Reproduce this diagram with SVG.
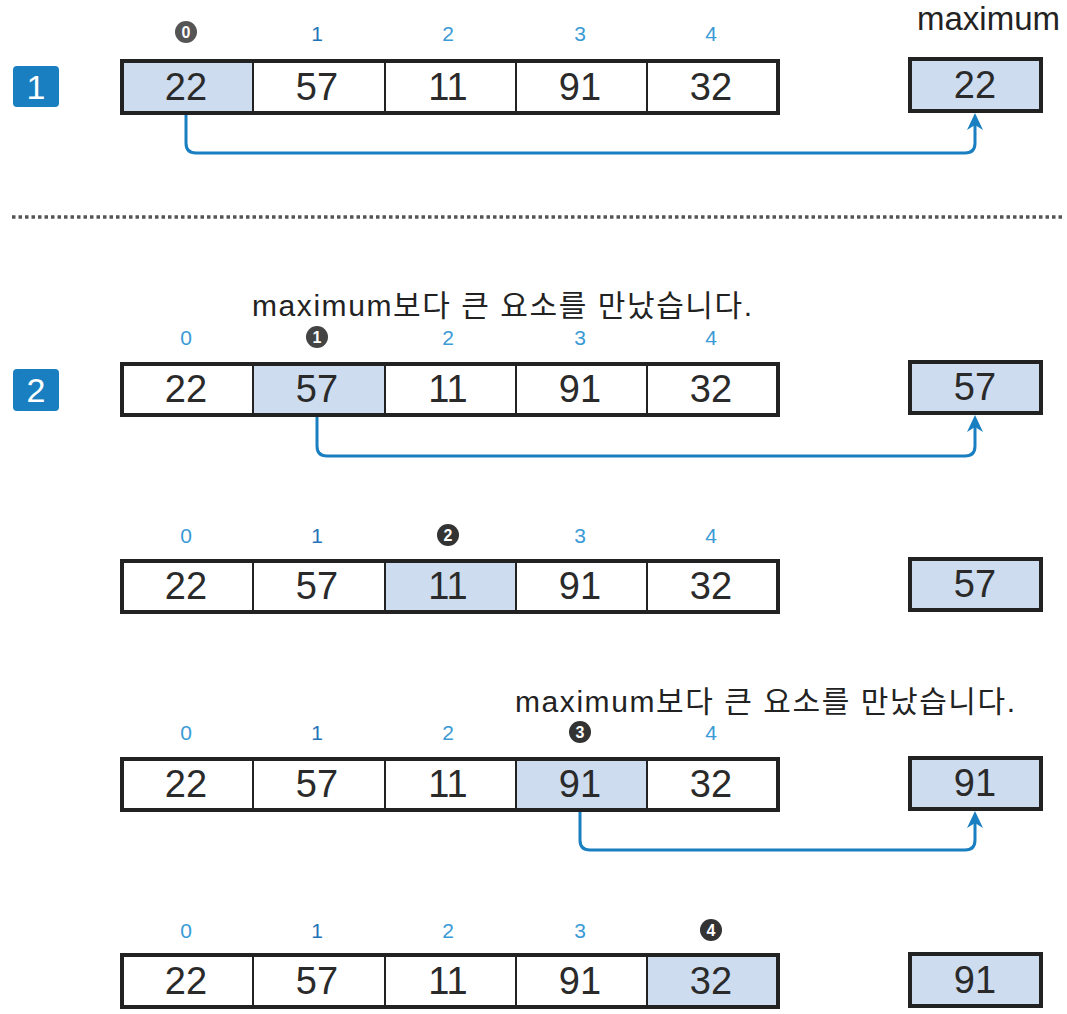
<svg xmlns="http://www.w3.org/2000/svg" width="1067" height="1014" viewBox="0 0 1067 1014">
<style>
.cell{fill:#fff;stroke:#222;stroke-width:2}
.hl{fill:#cddcee}
.outer{fill:none;stroke:#222;stroke-width:4}
.maxb{fill:#cddcee;stroke:#222;stroke-width:4}
.num{font-family:"Liberation Sans",Arial,sans-serif;font-size:38px;fill:#2a2a2a;text-anchor:middle}
.idx{font-family:"Liberation Sans",Arial,sans-serif;font-size:21px;fill:#3a9ad6;text-anchor:middle}
.idx1{fill:#1f74b8}
.cnum{font-family:"Liberation Sans",Arial,sans-serif;font-size:16px;font-weight:bold;fill:#fff;text-anchor:middle}
.note{font-family:"Liberation Sans","Noto Sans CJK KR",sans-serif;font-size:30px;fill:#222}
.badge{fill:#1a7fc1}
.btxt{font-family:"Liberation Sans",Arial,sans-serif;font-size:34px;fill:#fff;text-anchor:middle}
.conn{fill:none;stroke:#1a7fc1;stroke-width:3}
.head{fill:#1a7fc1}
</style>

<!-- Row 1 -->
<g id="badge1"><rect class="badge" x="13" y="66" width="46" height="41" rx="4"/><text class="btxt" x="36" y="99">1</text></g>
<g id="row1">
<circle cx="186" cy="32" r="11" fill="#555"/><text class="cnum" x="186" y="38">0</text>
<text class="idx idx1" x="317" y="41">1</text>
<text class="idx" x="448" y="41">2</text>
<text class="idx" x="580" y="41">3</text>
<text class="idx" x="711" y="41">4</text>
<rect class="cell hl" x="122" y="61" width="131" height="52"/>
<rect class="cell" x="253" y="61" width="132" height="52"/>
<rect class="cell" x="385" y="61" width="131" height="52"/>
<rect class="cell" x="516" y="61" width="131" height="52"/>
<rect class="cell" x="647" y="61" width="131" height="52"/>
<rect class="outer" x="122" y="61" width="656" height="52"/>
<text class="num" x="186" y="100">22</text>
<text class="num" x="317" y="100">57</text>
<text class="num" x="448" y="100">11</text>
<text class="num" x="580" y="100">91</text>
<text class="num" x="711" y="100">32</text>
</g>
<g id="max1">
<text x="917" y="30" style="font-family:'Liberation Sans',Arial,sans-serif;font-size:33px;fill:#222">maximum</text>
<rect class="maxb" x="910" y="59" width="131" height="52"/>
<text class="num" x="975" y="98">22</text>
</g>

<line x1="12" y1="217" x2="1062" y2="217" stroke="#555" stroke-width="3.5" stroke-dasharray="3.5 3"/>

<!-- Row 2 -->
<g id="badge2"><rect class="badge" x="13" y="369" width="46" height="42" rx="4"/><text class="btxt" x="36" y="402">2</text></g>
<g id="row2">
<text class="note" x="252" y="316" textLength="500">maximum보다 큰 요소를 만났습니다.</text>
<text class="idx" x="186" y="345">0</text>
<circle cx="317" cy="337" r="11" fill="#444"/><text class="cnum" x="317" y="343">1</text>
<text class="idx" x="448" y="345">2</text>
<text class="idx" x="580" y="345">3</text>
<text class="idx" x="711" y="345">4</text>
<rect class="cell" x="122" y="364" width="131" height="51"/>
<rect class="cell hl" x="253" y="364" width="132" height="51"/>
<rect class="cell" x="385" y="364" width="131" height="51"/>
<rect class="cell" x="516" y="364" width="131" height="51"/>
<rect class="cell" x="647" y="364" width="131" height="51"/>
<rect class="outer" x="122" y="364" width="656" height="51"/>
<text class="num" x="186" y="402">22</text>
<text class="num" x="317" y="402">57</text>
<text class="num" x="448" y="402">11</text>
<text class="num" x="580" y="402">91</text>
<text class="num" x="711" y="402">32</text>
</g>
<g id="max2"><rect class="maxb" x="910" y="362" width="131" height="51"/><text class="num" x="975" y="400">57</text></g>

<!-- Row 3 -->
<g id="row3">
<text class="idx" x="186" y="543">0</text>
<text class="idx idx1" x="317" y="543">1</text>
<circle cx="448" cy="535" r="11" fill="#333"/><text class="cnum" x="448" y="541">2</text>
<text class="idx" x="580" y="543">3</text>
<text class="idx" x="711" y="543">4</text>
<rect class="cell" x="122" y="561" width="131" height="51"/>
<rect class="cell" x="253" y="561" width="132" height="51"/>
<rect class="cell hl" x="385" y="561" width="131" height="51"/>
<rect class="cell" x="516" y="561" width="131" height="51"/>
<rect class="cell" x="647" y="561" width="131" height="51"/>
<rect class="outer" x="122" y="561" width="656" height="51"/>
<text class="num" x="186" y="599">22</text>
<text class="num" x="317" y="599">57</text>
<text class="num" x="448" y="599">11</text>
<text class="num" x="580" y="599">91</text>
<text class="num" x="711" y="599">32</text>
</g>
<g id="max3"><rect class="maxb" x="910" y="559" width="131" height="51"/><text class="num" x="975" y="597">57</text></g>

<!-- Row 4 -->
<g id="row4">
<text class="note" x="515" y="712" textLength="500">maximum보다 큰 요소를 만났습니다.</text>
<text class="idx" x="186" y="740">0</text>
<text class="idx idx1" x="317" y="740">1</text>
<text class="idx" x="448" y="740">2</text>
<circle cx="580" cy="732" r="11" fill="#333"/><text class="cnum" x="580" y="738">3</text>
<text class="idx" x="711" y="740">4</text>
<rect class="cell" x="122" y="759" width="131" height="51"/>
<rect class="cell" x="253" y="759" width="132" height="51"/>
<rect class="cell" x="385" y="759" width="131" height="51"/>
<rect class="cell hl" x="516" y="759" width="131" height="51"/>
<rect class="cell" x="647" y="759" width="131" height="51"/>
<rect class="outer" x="122" y="759" width="656" height="51"/>
<text class="num" x="186" y="797">22</text>
<text class="num" x="317" y="797">57</text>
<text class="num" x="448" y="797">11</text>
<text class="num" x="580" y="797">91</text>
<text class="num" x="711" y="797">32</text>
</g>
<g id="max4"><rect class="maxb" x="910" y="758" width="131" height="51"/><text class="num" x="975" y="796">91</text></g>

<!-- Row 5 -->
<g id="row5">
<text class="idx" x="186" y="938">0</text>
<text class="idx idx1" x="317" y="938">1</text>
<text class="idx" x="448" y="938">2</text>
<text class="idx" x="580" y="938">3</text>
<circle cx="711" cy="930" r="11" fill="#333"/><text class="cnum" x="711" y="936">4</text>
<rect class="cell" x="122" y="955" width="131" height="52"/>
<rect class="cell" x="253" y="955" width="132" height="52"/>
<rect class="cell" x="385" y="955" width="131" height="52"/>
<rect class="cell" x="516" y="955" width="131" height="52"/>
<rect class="cell hl" x="647" y="955" width="131" height="52"/>
<rect class="outer" x="122" y="955" width="656" height="52"/>
<text class="num" x="186" y="994">22</text>
<text class="num" x="317" y="994">57</text>
<text class="num" x="448" y="994">11</text>
<text class="num" x="580" y="994">91</text>
<text class="num" x="711" y="994">32</text>
</g>
<g id="max5"><rect class="maxb" x="910" y="954" width="131" height="52"/><text class="num" x="975" y="993">91</text></g>

<g id="connectors">
<path class="conn" d="M186,115 V143 Q186,153 196,153 H965 Q975,153 975,143 V120"/>
<path class="head" d="M975,113 L983,130 L975,125 L967,130 Z"/>
<path class="conn" d="M317,417 V446 Q317,456 327,456 H965 Q975,456 975,446 V422"/>
<path class="head" d="M975,415 L983,432 L975,427 L967,432 Z"/>
<path class="conn" d="M580,812 V840 Q580,850 590,850 H965 Q975,850 975,840 V818"/>
<path class="head" d="M975,811 L983,828 L975,823 L967,828 Z"/>
</g>
</svg>
